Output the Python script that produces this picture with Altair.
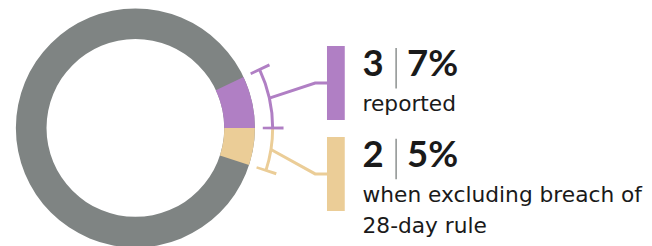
import math
import altair as alt
import pandas as pd

# ---------------- data ----------------
counts = [3, 2]
pcts = [7, 5]
desc_lines = [["reported"], ["when excluding breach of", "28-day rule"]]
slice_colors = ["#b07fc4", "#ebcd97"]
rest_color = "#7f8483"
anchor_pct = 25  # highlighted slices end at 3 o'clock

# ---------------- layout ----------------
W, H = 644, 238
DX = 4
CX, CY = 125 + DX, 120
R_OUT, R_IN = 121, 90
BR_R0, BR_R1 = 137.5, 140.5
CAP_R0, CAP_R1 = 129, 150
CAP_HALF = 0.16
BAR_X0, BAR_X1 = 319 + DX, 337 + DX
BAR_TOP0, BAR_STEP, BAR_H = 37, 92, 75
ELBOW_X = 307 + DX
TEXT_X = 355 + DX
SEP_X = 389 + DX
PCT_X = 400 + DX
NUM_FONT = "Lato"
DESC_FONT = "DejaVu Sans"
TXT = "#1a1a1a"

# ---------------- derived tables ----------------
ring_df = pd.DataFrame([{"s": 0, "e": 100, "c": rest_color}])
start0 = anchor_pct - pcts[0]
segs = []
pos = start0
for p, c in zip(pcts, slice_colors):
    segs.append({"s": pos, "e": pos + p, "c": c})
    pos += p
hl = pd.DataFrame(segs)

caps = []
caps.append({"s": hl.loc[0, "s"] - CAP_HALF, "e": hl.loc[0, "s"] + CAP_HALF, "c": hl.loc[0, "c"]})
for i in range(len(hl)):
    caps.append({"s": hl.loc[i, "e"] - CAP_HALF, "e": hl.loc[i, "e"] + CAP_HALF, "c": hl.loc[i, "c"]})
caps_df = pd.DataFrame(caps)

conn_rows, bar_rows, num_rows, pct_rows, sep_rows, desc_rows = [], [], [], [], [], []
for i in range(len(hl)):
    mid = (hl.loc[i, "s"] + hl.loc[i, "e"]) / 2
    ang = mid / 100 * 2 * math.pi
    r = (BR_R0 + BR_R1) / 2
    sx, sy = CX + r * math.sin(ang), CY - r * math.cos(ang)
    top = BAR_TOP0 + i * BAR_STEP
    midy = top + BAR_H / 2
    c = hl.loc[i, "c"]
    conn_rows += [
        {"k": i, "o": 0, "px": sx, "py": sy, "c": c},
        {"k": i, "o": 1, "px": ELBOW_X, "py": midy, "c": c},
        {"k": i, "o": 2, "px": BAR_X0 + 1, "py": midy, "c": c},
    ]
    bar_rows.append({"px": BAR_X0, "px2": BAR_X1, "py": top, "py2": top + BAR_H, "c": c})
    num_rows.append({"px": TEXT_X, "py": top + 30.5, "t": str(counts[i])})
    pct_rows.append({"px": PCT_X, "py": top + 30.5, "t": f"{pcts[i]}%"})
    sep_rows.append({"px": SEP_X, "py": top + 2, "py2": top + 43})
    for j, line in enumerate(desc_lines[i]):
        desc_rows.append({"px": TEXT_X, "py": top + 65.5 + j * 31.5, "t": line})

theta_scale = alt.Scale(domain=[0, 100], range=[0, 2 * math.pi])
xs = alt.Scale(domain=[0, W], range=[0, W], nice=False, zero=False)
ys = alt.Scale(domain=[0, H], range=[0, H], nice=False, zero=False)


def arc_layer(df, r_out, r_in):
    return alt.Chart(df).mark_arc(x=CX, y=CY, radius=r_out, radius2=r_in).encode(
        theta=alt.Theta("s:Q", scale=theta_scale, stack=None),
        theta2="e:Q",
        color=alt.Color("c:N", scale=None),
    )


ring = arc_layer(ring_df, R_OUT, R_IN)
donut = arc_layer(hl, R_OUT, R_IN)
brackets = arc_layer(hl, BR_R1, BR_R0)
caps_l = arc_layer(caps_df, CAP_R1, CAP_R0)

conn = alt.Chart(pd.DataFrame(conn_rows)).mark_line(strokeWidth=3, strokeJoin="miter").encode(
    x=alt.X("px:Q", scale=xs, axis=None),
    y=alt.Y("py:Q", scale=ys, axis=None),
    detail="k:N",
    order="o:Q",
    color=alt.Color("c:N", scale=None),
)

bars = alt.Chart(pd.DataFrame(bar_rows)).mark_rect().encode(
    x=alt.X("px:Q", scale=xs, axis=None), x2="px2:Q",
    y=alt.Y("py:Q", scale=ys, axis=None), y2="py2:Q",
    color=alt.Color("c:N", scale=None),
)

nums = alt.Chart(pd.DataFrame(num_rows)).mark_text(
    align="left", baseline="alphabetic", font=NUM_FONT, fontSize=37, fontWeight="bold", color=TXT
).encode(x=alt.X("px:Q", scale=xs, axis=None), y=alt.Y("py:Q", scale=ys, axis=None), text="t:N")

pcts_l = alt.Chart(pd.DataFrame(pct_rows)).mark_text(
    align="left", baseline="alphabetic", font=NUM_FONT, fontSize=37, fontWeight="bold", color=TXT
).encode(x=alt.X("px:Q", scale=xs, axis=None), y=alt.Y("py:Q", scale=ys, axis=None), text="t:N")

seps = alt.Chart(pd.DataFrame(sep_rows)).mark_rule(color="#8a8f8e", strokeWidth=1.5).encode(
    x=alt.X("px:Q", scale=xs, axis=None),
    y=alt.Y("py:Q", scale=ys, axis=None), y2="py2:Q",
)

descs = alt.Chart(pd.DataFrame(desc_rows)).mark_text(
    align="left", baseline="alphabetic", font=DESC_FONT, fontSize=22, color=TXT
).encode(x=alt.X("px:Q", scale=xs, axis=None), y=alt.Y("py:Q", scale=ys, axis=None), text="t:N")

chart = alt.layer(ring, donut, brackets, caps_l, conn, bars, seps, nums, pcts_l, descs).properties(
    width=W, height=H, autosize=alt.AutoSizeParams(type="none"), padding=0
).configure_view(stroke=None)

chart.save("out.html", embed_options={"renderer": "svg", "actions": False})
